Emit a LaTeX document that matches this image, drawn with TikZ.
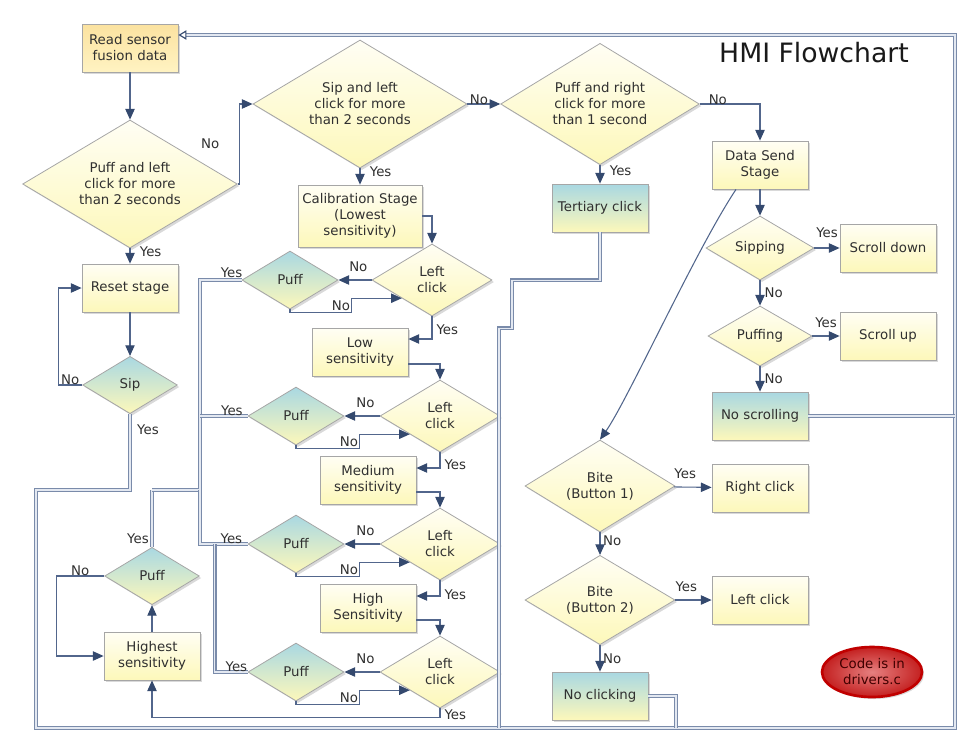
\documentclass[tikz,border=0pt]{standalone}
\usepackage{fontspec}
\setmainfont{DejaVu Sans}
\usetikzlibrary{shapes.geometric}
\usetikzlibrary{arrows.meta}
\usetikzlibrary{shadows}

\definecolor{linecol}{HTML}{52668C}
\definecolor{tipcol}{HTML}{34496E}
\definecolor{retcol}{HTML}{7A8BAA}
\definecolor{retin}{HTML}{E3E8F1}
\definecolor{boxline}{HTML}{A6A6A6}
\definecolor{txtcol}{HTML}{303030}
\definecolor{paleyel}{HTML}{FFFEF4}
\definecolor{yel}{HTML}{FDF8BA}
\definecolor{orangetop}{HTML}{FBE2A0}
\definecolor{orangebot}{HTML}{FFF3C2}
\definecolor{bluetop}{HTML}{A9D8E2}
\definecolor{redin}{HTML}{E68080}
\definecolor{redout}{HTML}{C42020}
\definecolor{redline}{HTML}{C00000}

\begin{document}
\begin{tikzpicture}[
		x=0.75pt, y=-0.75pt,
		font=\fontsize{10}{12}\selectfont,
		text=txtcol,
		>={Triangle[length=8pt,width=7pt,color=tipcol]},
		shadowed/.style={
			drop shadow={shadow xshift=1.5pt,shadow yshift=-1.5pt,opacity=0.3}
		},
		block/.style={
			rectangle,
			draw=boxline,
			line width=0.6pt,
			align=center,
			inner sep=1pt,
			top color=paleyel,
			bottom color=yel,
			minimum width=72pt,
			minimum height=36pt,
			shadowed
		},
		decision/.style={
			diamond,
			draw=boxline,
			line width=0.6pt,
			align=center,
			inner sep=0pt,
			aspect=1.7,
			top color=paleyel,
			bottom color=yel,
			shadowed
		},
		bluefill/.style={top color=bluetop, bottom color=yel},
		conn/.style={->, draw=linecol, line width=0.8pt},
		ret/.style={draw=retcol, double=retin, double distance=1.3pt, line width=0.85pt},
		lbl/.style={inner sep=1pt, text=txtcol}
		]
		
		\useasboundingbox (0,0) rectangle (962,743);
		
		\node[block, top color=orangetop, bottom color=orangebot] (read) at (130,48) {Read sensor\\fusion data};
		\node[decision, minimum width=161pt, minimum height=96pt] (pl2) at (130,184) {Puff and left\\click for more\\than 2 seconds};
		\node[block] (reset) at (130,288) {Reset stage};
		\node[decision, bluefill, minimum width=71pt, minimum height=43pt] (sip) at (130,385) {Sip};
		
		\node[decision, minimum width=160.5pt, minimum height=96pt] (sl2) at (360,104) {Sip and left\\click for more\\than 2 seconds};
		\node[decision, minimum width=149pt, minimum height=91pt] (pr1) at (600,104) {Puff and right\\click for more\\than 1 second};
		\node[block, minimum width=93pt, minimum height=46.5pt] (calib) at (360,216) {Calibration Stage\\(Lowest\\sensitivity)};
		\node[block, bluefill] (tert) at (600,208) {Tertiary click};
		
		\node[block] (dsend) at (760,165) {Data Send\\Stage};
		\node[decision, minimum width=81pt, minimum height=48pt] (sipping) at (760,248) {Sipping};
		\node[block] (sdown) at (888,248) {Scroll down};
		\node[decision, minimum width=78pt, minimum height=45pt] (puffing) at (760,336) {Puffing};
		\node[block] (sup) at (888,336) {Scroll up};
		\node[block, bluefill] (noscroll) at (760,416) {No scrolling};
		
		\node[decision, minimum width=112.5pt, minimum height=69pt] (bite1) at (600,486) {Bite\\(Button 1)};
		\node[block] (rclick) at (760,488) {Right click};
		\node[decision, minimum width=112.5pt, minimum height=67pt] (bite2) at (600,600) {Bite\\(Button 2)};
		\node[block] (lclick) at (760,600) {Left click};
		\node[block, bluefill] (noclick) at (600,696) {No clicking};
		
		\node[decision, minimum width=90pt, minimum height=54pt] (lc1) at (432,280) {Left\\click};
		\node[decision, bluefill, minimum width=72pt, minimum height=43.5pt] (puff1) at (290,280) {Puff};
		\node[block] (lowsens) at (360,352) {Low\\sensitivity};
		
		\node[decision, minimum width=90pt, minimum height=54pt] (lc2) at (440,416) {Left\\click};
		\node[decision, bluefill, minimum width=72pt, minimum height=43.5pt] (puff2) at (296,416) {Puff};
		\node[block] (medsens) at (368,480) {Medium\\sensitivity};
		
		\node[decision, minimum width=90pt, minimum height=54pt] (lc3) at (440,544) {Left\\click};
		\node[decision, bluefill, minimum width=72pt, minimum height=43.5pt] (puff3) at (296,544) {Puff};
		\node[block] (highsens) at (368,608) {High\\Sensitivity};
		
		\node[decision, minimum width=90pt, minimum height=54pt] (lc4) at (440,672) {Left\\click};
		\node[decision, bluefill, minimum width=72pt, minimum height=43.5pt] (puff4) at (296,672) {Puff};
		
		\node[block] (highest) at (152,656) {Highest\\sensitivity};
		\node[decision, bluefill, minimum width=71pt, minimum height=43pt] (puff5) at (152,576) {Puff};
		
		\node[
		ellipse,
		draw=redline,
		line width=2pt,
		inner color=redin,
		outer color=redout,
		minimum width=75pt,
		minimum height=37.5pt,
		inner sep=0pt,
		align=center,
		text=black!75!red,
		shadowed
		] (code) at (872,672) {Code is in\\drivers.c};
		
		\node[font=\fontsize{20}{24}\selectfont, text=black!90] (title) at (814,53) {HMI Flowchart};
		
		\coordinate (ret1) at (36,490);
		\coordinate (ret2) at (36,728);
		\coordinate (ret3) at (955,728);
		\coordinate (ret4) at (955,35);
		\coordinate (jcol) at (200,490);
		\coordinate (jp5) at (152,490);
		\coordinate (jt) at (499,728);
		\coordinate (jn) at (676,728);
		\coordinate (jr) at (955,416);
		
		%%%%%%%%%%
		
		\draw[ret, -{Triangle[open,length=6pt,width=7pt,color=tipcol]}] (sip.south) -- node[lbl, right=4pt, pos=0.2]{Yes} (sip.south |- ret1) -- (ret1) -- (ret2) -- (ret3) -- (ret4) -- ([yshift=9.75pt]read.east);
		\draw[ret] (puff5.north) -- node[lbl, left=1pt, pos=0.15]{Yes} (jp5);
		\draw[ret] (puff1.west) -| node[lbl, above=0pt, pos=0.12]{Yes} (jcol) -- (jp5);
		\draw[ret] (puff2.west) -- node[lbl, above=-1pt, pos=0.33]{Yes} (puff2.west -| jcol);
		\draw[ret] (puff3.west) -| node[lbl, above=-1pt, pos=0.17]{Yes} (jcol);
		\draw[ret] (puff4.west) -| node[lbl, above=-1pt, pos=0.17]{Yes} ([xshift=-24.75pt]puff3.west);
		\draw[ret] (tert.south) -- ++(0,48) -| ++(-88,48) -| (jt);
		\draw[ret] (noclick.east) -| (jn);
		\draw[ret] (noscroll.east) -- (jr);
		
		\draw[conn] (read) -- (pl2);
		\draw[conn] (pl2) -- node[lbl, pos=0.2, right=6pt]{Yes} (reset);
		\draw[conn] (pl2.east) -- ++(2,0) |- node[lbl, pos=0.25, left=14pt]{No} (sl2.west);
		\draw[conn] (reset) -- (sip);
		\draw[conn] (sip.west) -- node[lbl, above=-1.5pt]{No} ++(-24,0) |- (reset.west);
		
		\draw[conn] (sl2) -- node[lbl, above=-2pt, pos=0.35]{No} (pr1);
		\draw[conn] (pr1.east) -| node[lbl, above=-2pt, pos=0.15]{No} (dsend.north);
		\draw[conn] (sl2) -- node[lbl, pos=0.2, right=6pt]{Yes} (calib);
		\draw[conn] (pr1) -- node[lbl, pos=0.3, right=6pt]{Yes} (tert);
		
		\draw[conn] (dsend) -- (sipping);
		\draw[conn] ([xshift=-18pt]dsend.south) .. controls +(-40,60) and +(28,-40) .. (bite1.north);
		\draw[conn] (sipping) -- node[lbl, above=6pt]{Yes} (sdown);
		\draw[conn] (sipping) -- node[lbl, right=2pt]{No} (puffing);
		\draw[conn] (puffing) -- node[lbl, above=5pt]{Yes} (sup);
		\draw[conn] (puffing) -- node[lbl, right=2pt]{No} (noscroll);
		
		\draw[conn] (bite1) -- node[lbl, above=5pt, pos=0.3]{Yes} (rclick);
		\draw[conn] (bite1) -- node[lbl, right=1pt, pos=0.35]{No} (bite2);
		\draw[conn] (bite2) -- node[lbl, above=4.5pt, pos=0.3]{Yes} (lclick);
		\draw[conn] (bite2) -- node[lbl, right=1pt]{No} (noclick);
		
		\draw[conn] (calib.east) -| (lc1.north);
		\draw[conn] (lc1) -- node[lbl, above=4.5pt, pos=0.4]{No} (puff1);
		\draw[conn] (puff1.south) -- ++(0,3) -| node[lbl, pos=0.5, anchor=south east]{No} ([xshift=-37.5pt]lc1.south west) -- (lc1.south west);
		\draw[conn] (lc1.south) |- node[lbl, pos=0.3, right=2pt]{Yes} ([yshift=9.75pt]lowsens.east);
		\draw[conn] ([yshift=-9pt]lowsens.east) -| (lc2.north);
		
		\draw[conn] (lc2) -- node[lbl, above=4.5pt, pos=0.4]{No} (puff2);
		\draw[conn] (puff2.south) -- ++(0,3) -| node[lbl, pos=0.5, anchor=south east]{No} ([xshift=-37.5pt]lc2.south west) -- (lc2.south west);
		\draw[conn] (lc2.south) |- node[lbl, pos=0.4, right=2pt]{Yes} ([yshift=9pt]medsens.east);
		\draw[conn] ([yshift=-9pt]medsens.east) -| (lc3.north);
		
		\draw[conn] (lc3) -- node[lbl, above=4.5pt, pos=0.4]{No} (puff3);
		\draw[conn] (puff3.south) -- ++(0,3) -| node[lbl, pos=0.5, anchor=south east]{No} ([xshift=-37.5pt]lc3.south west) -- (lc3.south west);
		\draw[conn] (lc3.south) |- node[lbl, pos=0.45, right=2pt]{Yes} ([yshift=9pt]highsens.east);
		\draw[conn] ([yshift=-9pt]highsens.east) -| (lc4.north);
		
		\draw[conn] (lc4) -- node[lbl, above=4.5pt, pos=0.4]{No} (puff4);
		\draw[conn] (puff4.south) -- ++(0,3) -| node[lbl, pos=0.5, anchor=south east]{No} ([xshift=-37.5pt]lc4.south west) -- (lc4.south west);
		\draw[conn] (lc4.south) -- node[lbl, right=2pt, pos=0.7]{Yes} ++(0,9) -| (highest.south);
		
		\draw[conn] (highest) -- (puff5);
		\draw[conn] (puff5.west) -- node[lbl, above=-1pt]{No} ++(-48,0) |- (highest.west);
		
	\end{tikzpicture}
\end{document}
